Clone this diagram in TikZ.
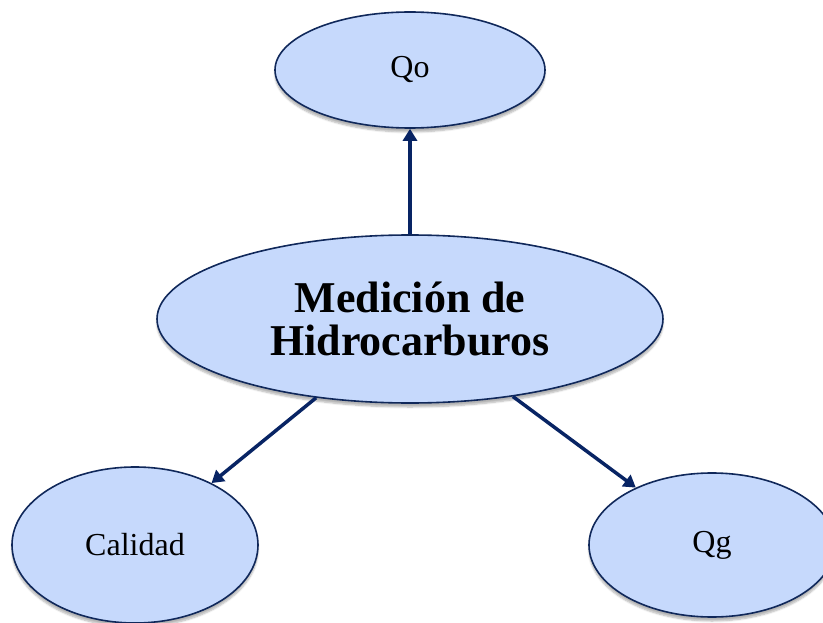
\documentclass[tikz,border=0pt]{standalone}
\usepackage{fontspec}
\setmainfont{Liberation Serif}
\usetikzlibrary{shapes.geometric,arrows.meta,shadows.blur}

\begin{document}
\begin{tikzpicture}[x=1pt,y=-1pt,
    bubble/.style={ellipse, draw=bubbleline, line width=1.6pt, fill=bubblefill,
        inner sep=2pt, font=\fontsize{32}{36}\selectfont,
        blur shadow={shadow xshift=0pt, shadow yshift=-4pt,
            shadow blur steps=6, shadow opacity=30}},
    link/.style={draw=linkcolor, line width=3.5pt,
        -{Triangle[length=12pt,width=14pt]}}]
    % Define colors
    \definecolor{bubblefill}{RGB}{198,217,252}
    \definecolor{bubbleline}{RGB}{16,40,90}
    \definecolor{linkcolor}{RGB}{8,36,100}

    % Canvas
    \useasboundingbox (0,0) rectangle (823,623);

    % Main topic
    \node[bubble, minimum width=506pt, minimum height=168pt, align=center,
        font=\bfseries\fontsize{44}{43}\selectfont] (mh) at (410,319)
        {Medición de\\Hidrocarburos};

    % Branches
    \node[bubble, minimum width=270pt, minimum height=116pt] (qo) at (410,70) {Qo};
    \node[bubble, minimum width=246pt, minimum height=156pt] (cal) at (135,545) {Calidad};
    \node[bubble, minimum width=246pt, minimum height=144pt] (qg) at (712,545) {Qg};

    % Arrows
    \foreach \from/\to in {mh.90/qo.270, mh.220/cal.39, mh.323/qg.143}
        \draw[link] (\from) -- (\to);
\end{tikzpicture}
\end{document}
